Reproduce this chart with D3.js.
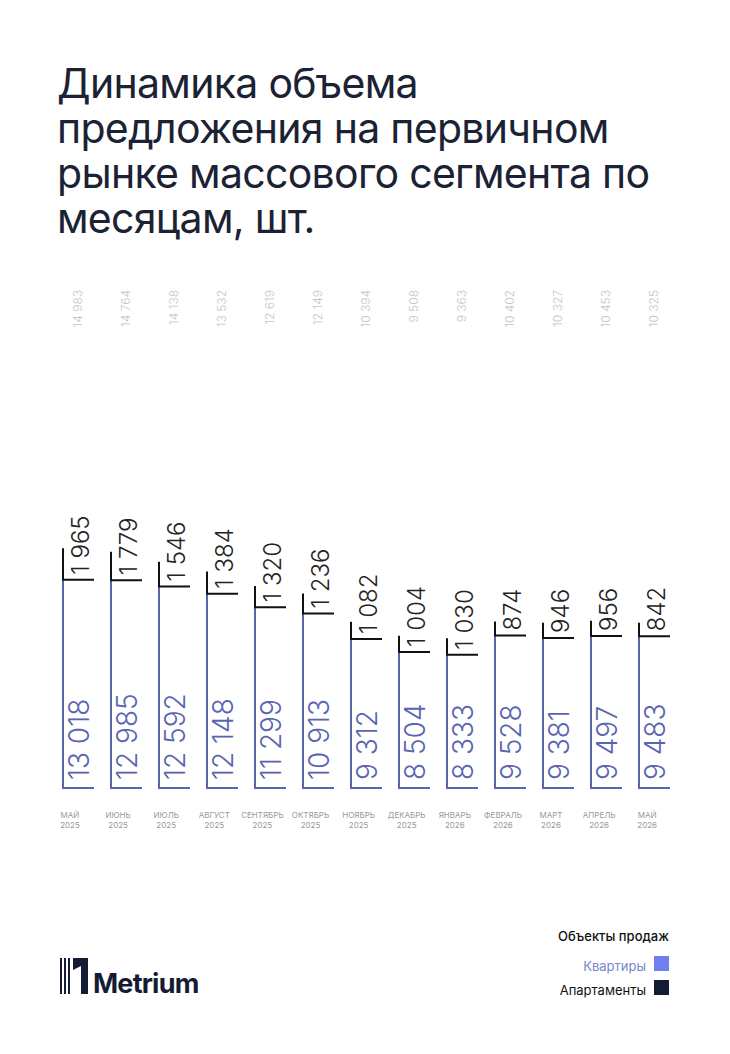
<!DOCTYPE html>
<html>
<meta charset="utf-8">
<style>
  body { margin: 0; background: #fff; }
  text { font-family: Inter, "Noto Sans", sans-serif; }
</style>
<script src="https://d3js.org/d3.v7.min.js"></script>
<body>
<script>
var months = ["МАЙ", "ИЮНЬ", "ИЮЛЬ", "АВГУСТ", "СЕНТЯБРЬ", "ОКТЯБРЬ", "НОЯБРЬ", "ДЕКАБРЬ", "ЯНВАРЬ", "ФЕВРАЛЬ", "МАРТ", "АПРЕЛЬ", "МАЙ"];
var years = ["2025", "2025", "2025", "2025", "2025", "2025", "2025", "2025", "2026", "2026", "2026", "2026", "2026"];
var flats = [13018, 12985, 12592, 12148, 11299, 10913, 9312, 8504, 8333, 9528, 9381, 9497, 9483];
var apts = [1965, 1779, 1546, 1384, 1320, 1236, 1082, 1004, 1030, 874, 946, 956, 842];
var totals = [14983, 14764, 14138, 13532, 12619, 12149, 10394, 9508, 9363, 10402, 10327, 10453, 10325];

var W = 730, H = 1054;
var fmt = function(v) { return d3.format(",")(v).replace(/,/g, " "); };
var svg = d3.select("body").append("svg").attr("width", W).attr("height", H);

var title = ["Динамика объема", "предложения на первичном", "рынке массового сегмента по", "месяцам, шт."];
svg.append("g").selectAll("text").data(title).enter().append("text")
  .attr("x", 57).attr("y", function(d, i) { return 98 + i * 45; })
  .attr("font-size", 41).attr("letter-spacing", -0.7).attr("fill", "#1b2234").text(function(d) { return d; });

var x = d3.scalePoint().domain(d3.range(13)).range([62, 638]);
var y = d3.scaleLinear().domain([0, 15000]).range([788, 548]);
var bw = 32;
var blue = "#5865b0", dark = "#111";

var g = svg.append("g").selectAll("g").data(d3.range(13)).enter().append("g")
  .attr("transform", function(i) { return "translate(" + x(i) + ",0)"; });

// flats: left + bottom edges
g.append("path").attr("fill", "none").attr("stroke", blue).attr("stroke-width", 2)
  .attr("d", function(i) { return "M1," + y(flats[i]) + "V" + y(0) + "H" + bw; });
// apartments: left edge + boundary
g.append("path").attr("fill", "none").attr("stroke", dark).attr("stroke-width", 2)
  .attr("d", function(i) { return "M1," + y(flats[i] + apts[i]) + "V" + y(flats[i]) + "H" + bw; });

g.append("text").attr("transform", "translate(" + (bw - 5) + "," + (y(0) - 8) + ") rotate(-90)")
  .attr("font-size", 28).attr("font-weight", 300).attr("fill", blue).text(function(i) { return fmt(flats[i]); });
g.append("text").attr("transform", function(i) { return "translate(" + (bw - 5) + "," + (y(flats[i]) - 5) + ") rotate(-90)"; })
  .attr("font-size", 24).attr("font-weight", 300).attr("fill", "#222").text(function(i) { return fmt(apts[i]); });
g.append("text").attr("transform", "translate(" + (bw / 2 + 4) + ",290) rotate(-90)")
  .attr("text-anchor", "end").attr("font-size", 12).attr("font-weight", 300).attr("fill", "#c4c4c4").text(function(i) { return fmt(totals[i]); });

var cx = function(i) { return x(i) + 8 + i * 0.1; };
var lab = svg.append("g").selectAll("text").data(d3.range(13)).enter().append("text")
  .attr("text-anchor", "middle").attr("font-size", 8).attr("fill", "#999").attr("x", cx);
lab.append("tspan").attr("y", 818).text(function(i) { return months[i]; });
lab.append("tspan").attr("y", 828).attr("x", cx).text(function(i) { return years[i]; });

// legend
svg.append("text").attr("x", 669).attr("y", 941).attr("text-anchor", "end").attr("font-size", 13).attr("font-weight", 500).attr("fill", "#111").text("Объекты продаж");
svg.append("text").attr("x", 646).attr("y", 971).attr("text-anchor", "end").attr("font-size", 13).attr("fill", "#7886c8").text("Квартиры");
svg.append("rect").attr("x", 654).attr("y", 956).attr("width", 15).attr("height", 15).attr("fill", "#6f7ef0");
svg.append("text").attr("x", 646).attr("y", 995).attr("text-anchor", "end").attr("font-size", 13).attr("fill", "#111").text("Апартаменты");
svg.append("rect").attr("x", 654).attr("y", 980).attr("width", 15).attr("height", 15).attr("fill", "#141c33");

// logo
var lg = svg.append("g").attr("fill", "#141c33");
[0, 4, 8].forEach(function(o) { lg.append("rect").attr("x", 60 + o).attr("y", 958).attr("width", 2).attr("height", 36); });
lg.append("path").attr("d", "M73,958 H88 V994 H81 V966 L73,970 Z");
lg.append("text").attr("x", 93).attr("y", 993).attr("font-size", 27).attr("font-weight", 700).attr("letter-spacing", -0.8).text("Metrium");
</script>
</body>
</html>
